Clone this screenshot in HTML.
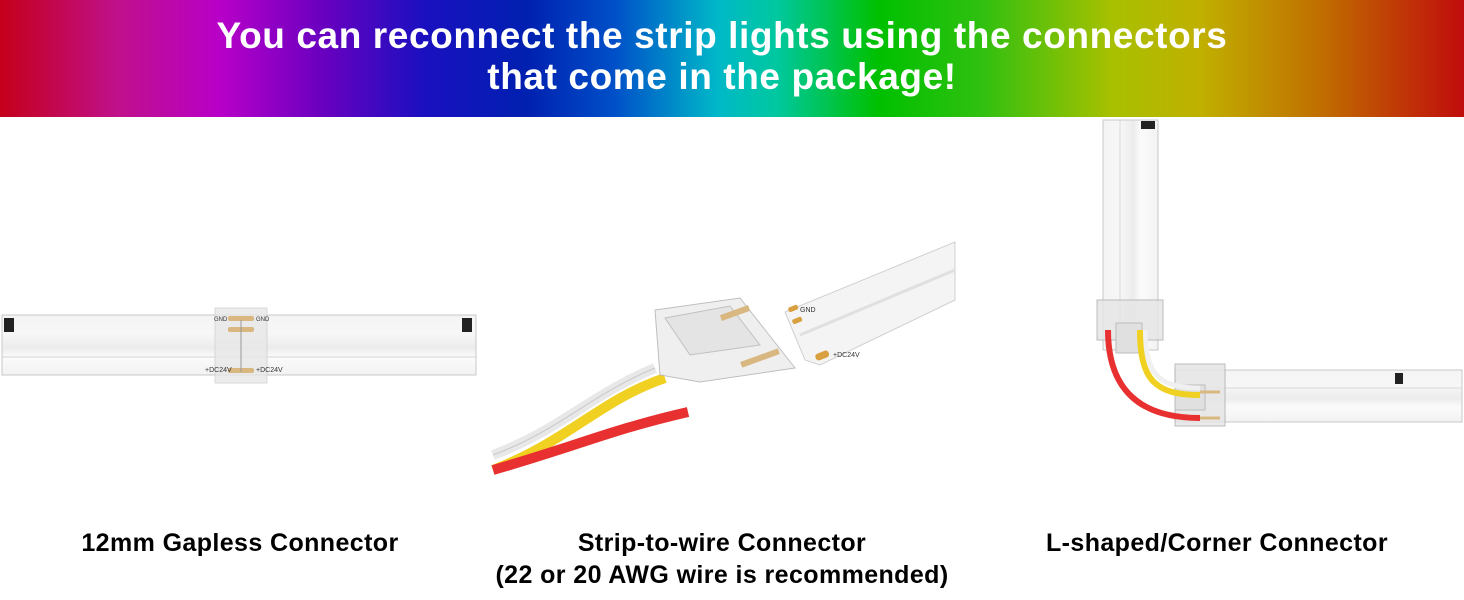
<!DOCTYPE html>
<html><head><meta charset="utf-8"><style>
html,body{margin:0;padding:0;background:#fff;}
body{width:1464px;height:600px;position:relative;overflow:hidden;font-family:"Liberation Sans",Arial,sans-serif;}
.hdr{position:absolute;left:0;top:0;width:1464px;height:117px;background:linear-gradient(90deg,#c4001a 0%,#c0108a 8%,#b800c8 15%,#6a00c0 22%,#1a10c0 29%,#0020b0 36%,#0050c8 42%,#00b8c8 49%,#00c8a0 53%,#00c000 60%,#30c010 67%,#a8c000 76%,#c0b000 82%,#c07000 90%,#c00c0c 100%);}
.hdr div{position:absolute;left:0;width:1444px;text-align:center;color:#fff;font-weight:bold;font-size:37px;letter-spacing:0.6px;}
.cap{position:absolute;font-weight:bold;font-size:25px;letter-spacing:0.4px;color:#000;text-align:center;}
</style></head><body>
<div class="hdr"><div style="top:15px">You can reconnect the strip lights using the connectors</div><div style="top:56px">that come in the package!</div></div>
<svg width="1464" height="600" style="position:absolute;left:0;top:0">
<defs>
<linearGradient id="sv" x1="0" y1="0" x2="0" y2="1"><stop offset="0" stop-color="#f4f4f4"/><stop offset="0.3" stop-color="#f7f7f7"/><stop offset="0.55" stop-color="#ececec"/><stop offset="0.7" stop-color="#fbfbfb"/><stop offset="1" stop-color="#f2f2f2"/></linearGradient>
<linearGradient id="sh" x1="0" y1="0" x2="1" y2="0"><stop offset="0" stop-color="#f4f4f4"/><stop offset="0.3" stop-color="#f7f7f7"/><stop offset="0.55" stop-color="#ececec"/><stop offset="0.7" stop-color="#fbfbfb"/><stop offset="1" stop-color="#f2f2f2"/></linearGradient>
</defs>
<!-- left strip -->
<rect x="2" y="315" width="474" height="60" fill="url(#sv)" stroke="#c8c8c8"/>
<line x1="2" y1="357" x2="476" y2="357" stroke="#d4d4d4"/>
<rect x="4" y="318" width="10" height="14" fill="#222"/><rect x="462" y="318" width="10" height="14" fill="#222"/>
<rect x="215" y="308" width="52" height="75" fill="#e8e8e8" opacity="0.8" stroke="#d0d0d0"/>
<rect x="228" y="316" width="26" height="5" rx="2" fill="#d8b880"/><rect x="228" y="327" width="26" height="5" rx="2" fill="#d8b880"/><rect x="228" y="368" width="26" height="5" rx="2" fill="#d8b880"/>
<line x1="241" y1="320" x2="241" y2="372" stroke="#999"/>
<text x="214" y="321" font-size="6" fill="#333">GND</text><text x="256" y="321" font-size="6" fill="#333">GND</text>
<text x="205" y="372" font-size="7" fill="#333">+DC24V</text><text x="256" y="372" font-size="7" fill="#333">+DC24V</text>
<!-- middle strip -->
<polygon points="785,312 955,242 955,300 820,365 805,360" fill="#f4f4f4" stroke="#d0d0d0"/>
<line x1="800" y1="335" x2="955" y2="270" stroke="#e0e0e0" stroke-width="3"/>
<rect x="788" y="306" width="10" height="5" rx="2" fill="#d8a040" transform="rotate(-22 793 308)"/>
<rect x="792" y="318" width="10" height="5" rx="2" fill="#d8a040" transform="rotate(-22 797 320)"/>
<rect x="815" y="352" width="14" height="7" rx="3" fill="#d8a040" transform="rotate(-22 822 355)"/>
<text x="800" y="312" font-size="7" fill="#333">GND</text><text x="833" y="357" font-size="7" fill="#333">+DC24V</text>
<!-- wires -->
<path d="M493,455 C560,430 590,395 655,368" stroke="#e8e8e8" stroke-width="10" fill="none"/>
<path d="M493,455 C560,430 590,395 655,368" stroke="#c8c8c8" stroke-width="1" fill="none"/>
<path d="M493,470 C570,440 600,400 665,378" stroke="#f0d020" stroke-width="10" fill="none"/>
<path d="M493,470 C580,445 610,430 688,412" stroke="#e83030" stroke-width="10" fill="none"/>
<!-- middle connector -->
<polygon points="655,310 740,298 795,368 700,382 660,375" fill="#eeeeee" stroke="#b8b8b8" opacity="0.9"/>
<polygon points="665,318 730,306 760,345 690,355" fill="#e4e4e4" stroke="#c0c0c0"/>
<rect x="720" y="310" width="30" height="6" fill="#d8b880" transform="rotate(-20 735 313)"/>
<rect x="740" y="355" width="40" height="6" fill="#d8b880" transform="rotate(-20 760 358)"/>
<!-- right: vertical strip -->
<rect x="1103" y="120" width="55" height="230" fill="url(#sh)" stroke="#c8c8c8"/>
<line x1="1120" y1="120" x2="1120" y2="350" stroke="#d8d8d8"/>
<rect x="1141" y="121" width="14" height="8" fill="#222"/>
<!-- horizontal strip -->
<rect x="1175" y="370" width="287" height="52" fill="url(#sv)" stroke="#c8c8c8"/>
<line x1="1175" y1="388" x2="1462" y2="388" stroke="#d8d8d8"/>
<rect x="1395" y="373" width="8" height="11" fill="#222"/>
<!-- corner connectors -->
<rect x="1097" y="300" width="66" height="40" fill="#e6e6e6" stroke="#b0b0b0" opacity="0.85"/>
<rect x="1116" y="323" width="26" height="30" fill="#e0e0e0" stroke="#bbb"/>
<rect x="1175" y="364" width="50" height="62" fill="#e6e6e6" stroke="#b0b0b0" opacity="0.85"/>
<rect x="1175" y="385" width="30" height="25" fill="#e0e0e0" stroke="#bbb"/>
<!-- corner wires -->
<path d="M1145,330 C1145,375 1160,388 1200,388" stroke="#f0f0f0" stroke-width="5" fill="none"/>
<path d="M1140,330 C1140,380 1155,395 1200,395" stroke="#f0d020" stroke-width="6" fill="none"/>
<path d="M1108,330 C1108,390 1140,418 1200,418" stroke="#e83030" stroke-width="6" fill="none"/>
<line x1="1200" y1="392" x2="1220" y2="392" stroke="#d8b880" stroke-width="3"/>
<line x1="1200" y1="418" x2="1220" y2="418" stroke="#d8b880" stroke-width="3"/>
</svg>
<div class="cap" style="left:40px;top:529px;width:400px">12mm Gapless Connector</div>
<div class="cap" style="left:422px;top:529px;width:600px">Strip-to-wire Connector</div>
<div class="cap" style="left:422px;top:561px;width:600px">(22 or 20 AWG wire is recommended)</div>
<div class="cap" style="left:1017px;top:529px;width:400px">L-shaped/Corner Connector</div>
</body></html>
